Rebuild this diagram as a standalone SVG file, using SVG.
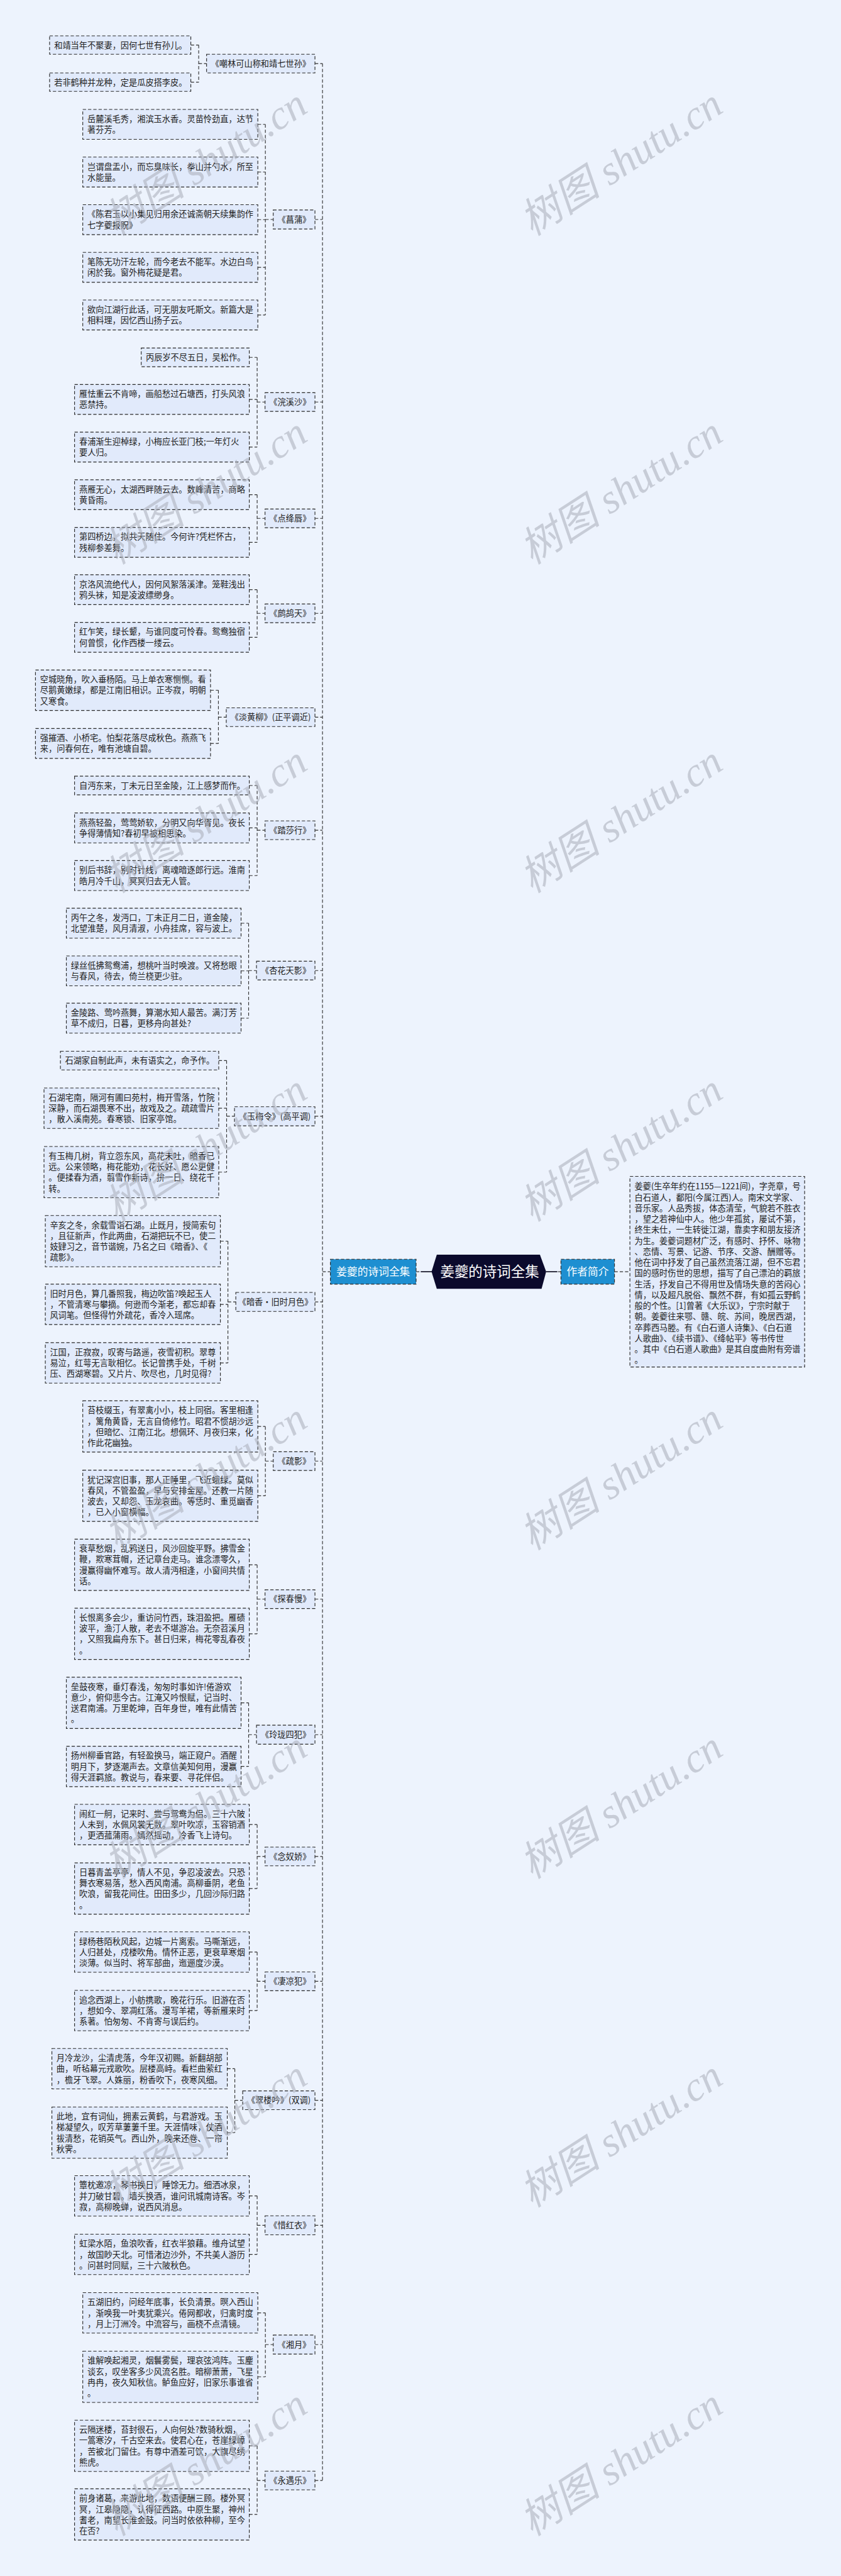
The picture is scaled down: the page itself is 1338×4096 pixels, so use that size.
<svg xmlns="http://www.w3.org/2000/svg" width="1338" height="4096" viewBox="0 0 1338 4096">
<style>
.box{fill:#e1eafb;stroke:#2b2b2b;stroke-width:2.2;stroke-dasharray:10 6}
.t{font-family:"Noto Sans CJK SC","Noto Sans",sans-serif;font-size:25.3px;fill:#222}
.m{text-anchor:middle}
.c{fill:none;stroke:#333;stroke-width:2.2;stroke-dasharray:10 6}
.s{fill:none;stroke:#1a1a2a;stroke-width:3.2}
.blue{fill:#1e8fd1;stroke:#2b2b2b;stroke-width:2.2;stroke-dasharray:10 6}
.wt{font-family:"Noto Sans CJK SC","Noto Sans",sans-serif;fill:#fff;text-anchor:middle}
.wm{font-family:"Liberation Serif","Noto Sans CJK SC",serif;font-style:italic;font-size:125px;fill:#a9aeb9;opacity:0.55}
</style>
<rect x="0" y="0" width="1338" height="4096" fill="#edf3fd"/>
<g transform="scale(0.5225)">
<g id="connectors">
<path class="c" d="M581,137H605 M581,250H605 M605,137V250 M605,193.5H629"/>
<path class="c" d="M785,378.5H808 M785,523.5H808 M785,668.5H808 M785,813.5H808 M785,958.5H808 M808,378.5V958.5 M808,668H832"/>
<path class="c" d="M759,1087.5H783 M759,1215.5H783 M759,1360.5H783 M783,1087.5V1360.5 M783,1223.5H807"/>
<path class="c" d="M759,1505.5H783 M759,1650.5H783 M783,1505.5V1650.5 M783,1577.5H807"/>
<path class="c" d="M759,1794.5H783 M759,1939.5H783 M783,1794.5V1939.5 M783,1866.5H807"/>
<path class="c" d="M641,2100.5H665 M641,2262.5H665 M665,2100.5V2262.5 M665,2182.5H689"/>
<path class="c" d="M759,2390.5H783 M759,2519.5H783 M759,2664.5H783 M783,2390.5V2664.5 M783,2526.5H807"/>
<path class="c" d="M734,2809.5H757 M734,2954.5H757 M734,3098.5H757 M757,2809.5V3098.5 M757,2953.5H781"/>
<path class="c" d="M666,3227.5H690 M666,3372.5H690 M666,3567H690 M690,3227.5V3567 M690,3397H714"/>
<path class="c" d="M671,3777H694 M671,3969.5H694 M671,4147.5H694 M694,3777V4147.5 M694,3962H718"/>
<path class="c" d="M785,4341H808 M785,4552H808 M808,4341V4552 M808,4446.5H832"/>
<path class="c" d="M759,4762H783 M759,4972H783 M783,4762V4972 M783,4866.5H807"/>
<path class="c" d="M734,5182H757 M734,5375.5H757 M757,5182V5375.5 M757,5279H781"/>
<path class="c" d="M759,5552.5H783 M759,5747H783 M783,5552.5V5747 M783,5649.5H807"/>
<path class="c" d="M759,5940.5H783 M759,6118.5H783 M783,5940.5V6118.5 M783,6029.5H807"/>
<path class="c" d="M692,6295.5H715 M692,6490H715 M715,6295.5V6490 M715,6391.5H739"/>
<path class="c" d="M759,6682.5H783 M759,6860.5H783 M783,6682.5V6860.5 M783,6772H807"/>
<path class="c" d="M785,7038.5H808 M785,7233H808 M808,7038.5V7233 M808,7135H832"/>
<path class="c" d="M759,7443H783 M759,7652H783 M783,7443V7652 M783,7548.5H807"/>
<path class="c" d="M982,193.5V7548.5 M959,193.5H982 M959,668H982 M959,1223.5H982 M959,1577.5H982 M959,1866.5H982 M959,2182.5H982 M959,2526.5H982 M959,2953.5H982 M959,3397H982 M959,3962H982 M959,4446.5H982 M959,4866.5H982 M959,5279H982 M959,5649.5H982 M959,6029.5H982 M959,6391.5H982 M959,6772H982 M959,7135H982 M959,7548.5H982 M982,3870H1006"/>
<path class="s" d="M1281,3870H1319 M1663,3870H1697"/>
<path class="c" d="M1267,3870H1277 M1699,3870H1708 M1871,3870H1918"/>
</g>

<g id="root-left"><rect class="blue" x="1006" y="3832" width="261" height="76"/><text class="wt" x="1136.5" y="3882" font-size="32">姜夔的诗词全集</text></g>
<g id="center"><polygon points="1330,3818 1644,3818 1663,3870 1649,3922 1330,3922 1314,3870" fill="#0b0a2c"/><text class="wt" x="1491" y="3886" font-size="43">姜夔的诗词全集</text></g>
<g id="author"><rect class="blue" x="1708" y="3832" width="163" height="76"/><text class="wt" x="1789.5" y="3882" font-size="32">作者简介</text></g>
<g id="author-text"><rect class="box" x="1918" y="3580" width="532" height="580"/>
<text class="t"><tspan x="1932" y="3620">姜夔(生卒年约在1155—1221间)，字尧章，号</tspan><tspan x="1932" y="3653">白石道人，鄱阳(今属江西)人。南宋文学家、</tspan><tspan x="1932" y="3686">音乐家。人品秀拔，体态清莹，气貌若不胜衣</tspan><tspan x="1932" y="3719">，望之若神仙中人。他少年孤贫，屡试不第，</tspan><tspan x="1932" y="3752">终生未仕，一生转徙江湖，靠卖字和朋友接济</tspan><tspan x="1932" y="3785">为生。姜夔词题材广泛，有感时、抒怀、咏物</tspan><tspan x="1932" y="3818">、恋情、写景、记游、节序、交游、酬赠等。</tspan><tspan x="1932" y="3851">他在词中抒发了自己虽然流落江湖，但不忘君</tspan><tspan x="1932" y="3884">国的感时伤世的思想，描写了自己漂泊的羁旅</tspan><tspan x="1932" y="3917">生活，抒发自己不得用世及情场失意的苦闷心</tspan><tspan x="1932" y="3950">情，以及超凡脱俗、飘然不群，有如孤云野鹤</tspan><tspan x="1932" y="3983">般的个性。[1]曾著《大乐议》，宁宗时献于</tspan><tspan x="1932" y="4016">朝。姜夔往来鄂、赣、皖、苏间，晚居西湖，</tspan><tspan x="1932" y="4049">卒葬西马塍。有《白石道人诗集》、《白石道</tspan><tspan x="1932" y="4082">人歌曲》、《续书谱》、《绛帖平》等书传世</tspan><tspan x="1932" y="4115">。其中《白石道人歌曲》是其自度曲附有旁谱</tspan><tspan x="1932" y="4148">。</tspan></text></g>

<g id="tA"><rect class="box" x="629" y="165" width="330" height="57"/><text class="t m" x="794" y="202.5">《嘲林可山称和靖七世孙》</text></g>
<g id="a1"><rect class="box" x="151" y="109" width="430" height="56"/><text class="t" x="165" y="146.5">和靖当年不聚妻，因何七世有孙儿。</text></g>
<g id="a2"><rect class="box" x="151" y="222" width="430" height="56"/><text class="t" x="165" y="259.5">若非鹤种并龙种，定是瓜皮搭李皮。</text></g>

<g id="tB"><rect class="box" x="832" y="639" width="127" height="58"/><text class="t m" x="895.5" y="677">《菖蒲》</text></g>
<g id="b1"><rect class="box" x="252" y="333" width="533" height="91"/><text class="t"><tspan x="266" y="371">岳麓溪毛秀，湘滨玉水香。灵苗怜劲直，达节</tspan><tspan x="266" y="404">著芬芳。</tspan></text></g>
<g id="b2"><rect class="box" x="252" y="478" width="533" height="91"/><text class="t"><tspan x="266" y="516">岂谓盘盂小，而忘臭味长，拳山并勺水，所至</tspan><tspan x="266" y="549">水能量。</tspan></text></g>
<g id="b3"><rect class="box" x="252" y="623" width="533" height="91"/><text class="t"><tspan x="266" y="661">《陈君玉以小集见归用余还诚斋朝天续集韵作</tspan><tspan x="266" y="694">七字夔报贶》</tspan></text></g>
<g id="b4"><rect class="box" x="252" y="768" width="533" height="91"/><text class="t"><tspan x="266" y="806">笔陈无功汗左轮，而今老去不能军。水边白鸟</tspan><tspan x="266" y="839">闲於我。窗外梅花疑是君。</tspan></text></g>
<g id="b5"><rect class="box" x="252" y="913" width="533" height="91"/><text class="t"><tspan x="266" y="951">欲向江湖行此话，可无朋友吒斯文。新篇大是</tspan><tspan x="266" y="984">相料理，因忆西山扬子云。</tspan></text></g>

<g id="tC"><rect class="box" x="807" y="1195" width="152" height="57"/><text class="t m" x="883" y="1232.5">《浣溪沙》</text></g>
<g id="c1"><rect class="box" x="430" y="1059" width="329" height="57"/><text class="t" x="444" y="1097">丙辰岁不尽五日，吴松作。</text></g>
<g id="c2"><rect class="box" x="227" y="1170" width="532" height="91"/><text class="t"><tspan x="241" y="1208">雁怯重云不肯啼，画船愁过石塘西，打头风浪</tspan><tspan x="241" y="1241">恶禁持。</tspan></text></g>
<g id="c3"><rect class="box" x="227" y="1315" width="532" height="91"/><text class="t"><tspan x="241" y="1353">春浦渐生迎棹绿，小梅应长亚门枝;一年灯火</tspan><tspan x="241" y="1386">要人归。</tspan></text></g>

<g id="tD"><rect class="box" x="807" y="1549" width="152" height="57"/><text class="t m" x="883" y="1586.5">《点绛唇》</text></g>
<g id="d1"><rect class="box" x="227" y="1460" width="532" height="91"/><text class="t"><tspan x="241" y="1498">燕雁无心，太湖西畔随云去。数峰清苦，商略</tspan><tspan x="241" y="1531">黄昏雨。</tspan></text></g>
<g id="d2"><rect class="box" x="227" y="1605" width="532" height="91"/><text class="t"><tspan x="241" y="1643">第四桥边，拟共天随住。今何许?凭栏怀古，</tspan><tspan x="241" y="1676">残柳参差舞。</tspan></text></g>

<g id="tE"><rect class="box" x="807" y="1838" width="152" height="57"/><text class="t m" x="883" y="1875.5">《鹧鸪天》</text></g>
<g id="e1"><rect class="box" x="227" y="1749" width="532" height="91"/><text class="t"><tspan x="241" y="1787">京洛风流绝代人，因何风絮落溪津。笼鞋浅出</tspan><tspan x="241" y="1820">鸦头袜，知是凌波缥缈身。</tspan></text></g>
<g id="e2"><rect class="box" x="227" y="1894" width="532" height="91"/><text class="t"><tspan x="241" y="1932">红乍笑，绿长颦，与谁同度可怜春。鸳鸯独宿</tspan><tspan x="241" y="1965">何曾惯，化作西楼一缕云。</tspan></text></g>

<g id="tF"><rect class="box" x="689" y="2154" width="270" height="57"/><text class="t m" x="824" y="2191.5">《淡黄柳》(正平调近)</text></g>
<g id="f1"><rect class="box" x="108" y="2039" width="533" height="123"/><text class="t"><tspan x="122" y="2077">空城晓角，吹入垂杨陌。马上单衣寒恻恻。看</tspan><tspan x="122" y="2110">尽鹅黄嫩绿，都是江南旧相识。正岑寂，明朝</tspan><tspan x="122" y="2143">又寒食。</tspan></text></g>
<g id="f2"><rect class="box" x="108" y="2217" width="533" height="91"/><text class="t"><tspan x="122" y="2255">强摧酒、小桥宅。怕梨花落尽成秋色。燕燕飞</tspan><tspan x="122" y="2288">来，问春何在，唯有池塘自碧。</tspan></text></g>

<g id="tG"><rect class="box" x="807" y="2498" width="152" height="57"/><text class="t m" x="883" y="2535.5">《踏莎行》</text></g>
<g id="g1"><rect class="box" x="227" y="2362" width="532" height="57"/><text class="t" x="241" y="2400">自沔东来，丁未元日至金陵，江上感梦而作。</text></g>
<g id="g2"><rect class="box" x="227" y="2474" width="532" height="91"/><text class="t"><tspan x="241" y="2512">燕燕轻盈，莺莺娇软，分明又向华胥见。夜长</tspan><tspan x="241" y="2545">争得薄情知?春初早被相思染。</tspan></text></g>
<g id="g3"><rect class="box" x="227" y="2619" width="532" height="91"/><text class="t"><tspan x="241" y="2657">别后书辞，别时针线，离魂暗逐郎行远。淮南</tspan><tspan x="241" y="2690">皓月冷千山，冥冥归去无人管。</tspan></text></g>

<g id="tH"><rect class="box" x="781" y="2925" width="178" height="57"/><text class="t m" x="870" y="2962.5">《杏花天影》</text></g>
<g id="h1"><rect class="box" x="202" y="2764" width="532" height="91"/><text class="t"><tspan x="216" y="2802">丙午之冬，发沔口，丁未正月二日，道金陵，</tspan><tspan x="216" y="2835">北望淮楚，风月清淑，小舟挂席，容与波上。</tspan></text></g>
<g id="h2"><rect class="box" x="202" y="2909" width="532" height="91"/><text class="t"><tspan x="216" y="2947">绿丝低拂鸳鸯浦，想桃叶当时唤渡。又将愁眼</tspan><tspan x="216" y="2980">与春风，待去，倚兰桡更少驻。</tspan></text></g>
<g id="h3"><rect class="box" x="202" y="3053" width="532" height="91"/><text class="t"><tspan x="216" y="3091">金陵路、莺吟燕舞，算潮水知人最苦。满汀芳</tspan><tspan x="216" y="3124">草不成归，日暮，更移舟向甚处?</tspan></text></g>

<g id="tI"><rect class="box" x="714" y="3368" width="245" height="58"/><text class="t m" x="836.5" y="3406">《玉梅令》(高平调)</text></g>
<g id="i1"><rect class="box" x="184" y="3199" width="482" height="57"/><text class="t" x="198" y="3237">石湖家自制此声，未有语实之，命予作。</text></g>
<g id="i2"><rect class="box" x="134" y="3311" width="532" height="123"/><text class="t"><tspan x="148" y="3349">石湖宅南，隔河有圃曰苑村，梅开雪落，竹院</tspan><tspan x="148" y="3382">深静，而石湖畏寒不出，故戏及之。疏疏雪片</tspan><tspan x="148" y="3415">，散入溪南苑。春寒锁、旧家亭馆。</tspan></text></g>
<g id="i3"><rect class="box" x="134" y="3489" width="532" height="156"/><text class="t"><tspan x="148" y="3527">有玉梅几树，背立怨东风，高花未吐，暗香已</tspan><tspan x="148" y="3560">远。公来领略，梅花能劝，花长好、愿公更健</tspan><tspan x="148" y="3593">。便揉春为酒，翦雪作新诗，拚一日、绕花千</tspan><tspan x="148" y="3626">转。</tspan></text></g>

<g id="tJ"><rect class="box" x="718" y="3933" width="241" height="58"/><text class="t m" x="838.5" y="3971">《暗香·旧时月色》</text></g>
<g id="j1"><rect class="box" x="138" y="3699" width="533" height="156"/><text class="t"><tspan x="152" y="3737">辛亥之冬，余载雪诣石湖。止既月，授简索句</tspan><tspan x="152" y="3770">，且征新声，作此两曲，石湖把玩不已，使二</tspan><tspan x="152" y="3803">妓肄习之，音节谐婉，乃名之曰《暗香》、《</tspan><tspan x="152" y="3836">疏影》。</tspan></text></g>
<g id="j2"><rect class="box" x="138" y="3908" width="533" height="123"/><text class="t"><tspan x="152" y="3946">旧时月色，算几番照我，梅边吹笛?唤起玉人</tspan><tspan x="152" y="3979">，不管清寒与攀摘。何逊而今渐老，都忘却春</tspan><tspan x="152" y="4012">风词笔。但怪得竹外疏花，香冷入瑶席。</tspan></text></g>
<g id="j3"><rect class="box" x="138" y="4086" width="533" height="123"/><text class="t"><tspan x="152" y="4124">江国，正寂寂，叹寄与路遥，夜雪初积。翠尊</tspan><tspan x="152" y="4157">易泣，红萼无言耿相忆。长记曾携手处，千树</tspan><tspan x="152" y="4190">压、西湖寒碧。又片片、吹尽也，几时见得?</tspan></text></g>

<g id="tK"><rect class="box" x="832" y="4418" width="127" height="57"/><text class="t m" x="895.5" y="4455.5">《疏影》</text></g>
<g id="k1"><rect class="box" x="252" y="4263" width="533" height="156"/><text class="t"><tspan x="266" y="4301">苔枝缀玉，有翠禽小小，枝上同宿。客里相逢</tspan><tspan x="266" y="4334">，篱角黄昏，无言自倚修竹。昭君不惯胡沙远</tspan><tspan x="266" y="4367">，但暗忆、江南江北。想佩环、月夜归来，化</tspan><tspan x="266" y="4400">作此花幽独。</tspan></text></g>
<g id="k2"><rect class="box" x="252" y="4474" width="533" height="156"/><text class="t"><tspan x="266" y="4512">犹记深宫旧事，那人正睡里，飞近蛾绿。莫似</tspan><tspan x="266" y="4545">春风，不管盈盈，早与安排金屋。还教一片随</tspan><tspan x="266" y="4578">波去，又却怨、玉龙哀曲。等恁时、重觅幽香</tspan><tspan x="266" y="4611">，已入小窗横幅。</tspan></text></g>

<g id="tL"><rect class="box" x="807" y="4838" width="152" height="57"/><text class="t m" x="883" y="4875.5">《探春慢》</text></g>
<g id="l1"><rect class="box" x="227" y="4684" width="532" height="156"/><text class="t"><tspan x="241" y="4722">衰草愁烟，乱鸦送日，风沙回旋平野。拂雪金</tspan><tspan x="241" y="4755">鞭，欺寒茸帽，还记章台走马。谁念漂零久，</tspan><tspan x="241" y="4788">漫赢得幽怀难写。故人清沔相逢，小窗间共情</tspan><tspan x="241" y="4821">话。</tspan></text></g>
<g id="l2"><rect class="box" x="227" y="4894" width="532" height="156"/><text class="t"><tspan x="241" y="4932">长恨离多会少，重访问竹西，珠泪盈把。雁碛</tspan><tspan x="241" y="4965">波平，渔汀人散，老去不堪游冶。无奈苕溪月</tspan><tspan x="241" y="4998">，又照我扁舟东下。甚日归来，梅花零乱春夜</tspan><tspan x="241" y="5031">。</tspan></text></g>

<g id="tM"><rect class="box" x="781" y="5250" width="178" height="58"/><text class="t m" x="870" y="5288">《玲珑四犯》</text></g>
<g id="m1"><rect class="box" x="202" y="5104" width="532" height="156"/><text class="t"><tspan x="216" y="5142">垒鼓夜寒，垂灯春浅，匆匆时事如许!倦游欢</tspan><tspan x="216" y="5175">意少，俯仰悲今古。江淹又吟恨赋，记当时、</tspan><tspan x="216" y="5208">送君南浦。万里乾坤，百年身世，唯有此情苦</tspan><tspan x="216" y="5241">。</tspan></text></g>
<g id="m2"><rect class="box" x="202" y="5314" width="532" height="123"/><text class="t"><tspan x="216" y="5352">扬州柳垂官路，有轻盈换马，端正窥户。酒醒</tspan><tspan x="216" y="5385">明月下，梦逐潮声去。文章信美知何用，漫赢</tspan><tspan x="216" y="5418">得天涯羁旅。教说与，春来要、寻花伴侣。</tspan></text></g>

<g id="tN"><rect class="box" x="807" y="5621" width="152" height="57"/><text class="t m" x="883" y="5658.5">《念奴娇》</text></g>
<g id="n1"><rect class="box" x="227" y="5491" width="532" height="123"/><text class="t"><tspan x="241" y="5529">闹红一舸，记来时、尝与鸳鸯为侣。三十六陂</tspan><tspan x="241" y="5562">人未到，水佩风裳无数。翠叶吹凉，玉容销酒</tspan><tspan x="241" y="5595">，更洒菰蒲雨。嫣然摇动，冷香飞上诗句。</tspan></text></g>
<g id="n2"><rect class="box" x="227" y="5669" width="532" height="156"/><text class="t"><tspan x="241" y="5707">日暮青盖亭亭，情人不见，争忍凌波去。只恐</tspan><tspan x="241" y="5740">舞衣寒易落，愁入西风南浦。高柳垂阴，老鱼</tspan><tspan x="241" y="5773">吹浪，留我花间住。田田多少，几回沙际归路</tspan><tspan x="241" y="5806">。</tspan></text></g>

<g id="tO"><rect class="box" x="807" y="6001" width="152" height="57"/><text class="t m" x="883" y="6038.5">《凄凉犯》</text></g>
<g id="o1"><rect class="box" x="227" y="5879" width="532" height="123"/><text class="t"><tspan x="241" y="5917">绿杨巷陌秋风起，边城一片离索。马嘶渐远，</tspan><tspan x="241" y="5950">人归甚处，戍楼吹角。情怀正恶，更衰草寒烟</tspan><tspan x="241" y="5983">淡薄。似当时、将军部曲，迤逦度沙漠。</tspan></text></g>
<g id="o2"><rect class="box" x="227" y="6057" width="532" height="123"/><text class="t"><tspan x="241" y="6095">追念西湖上，小舫携歌，晚花行乐。旧游在否</tspan><tspan x="241" y="6128">，想如今、翠凋红落。漫写羊裙，等新雁来时</tspan><tspan x="241" y="6161">系著。怕匆匆、不肯寄与误后约。</tspan></text></g>

<g id="tP"><rect class="box" x="739" y="6363" width="220" height="57"/><text class="t m" x="849" y="6400.5">《翠楼吟》(双调)</text></g>
<g id="p1"><rect class="box" x="158" y="6234" width="534" height="123"/><text class="t"><tspan x="172" y="6272">月冷龙沙，尘清虎落，今年汉初赐。新翻胡部</tspan><tspan x="172" y="6305">曲，听毡幕元戎歌吹。层楼高峙。看栏曲萦红</tspan><tspan x="172" y="6338">，檐牙飞翠。人姝丽，粉香吹下，夜寒风细。</tspan></text></g>
<g id="p2"><rect class="box" x="158" y="6412" width="534" height="156"/><text class="t"><tspan x="172" y="6450">此地，宜有词仙，拥素云黄鹤，与君游戏。玉</tspan><tspan x="172" y="6483">梯凝望久，叹芳草萋萋千里。天涯情味，仗酒</tspan><tspan x="172" y="6516">祓清愁，花销英气。西山外，晚来还卷、一帘</tspan><tspan x="172" y="6549">秋霁。</tspan></text></g>

<g id="tQ"><rect class="box" x="807" y="6743" width="152" height="58"/><text class="t m" x="883" y="6781">《惜红衣》</text></g>
<g id="q1"><rect class="box" x="227" y="6621" width="532" height="123"/><text class="t"><tspan x="241" y="6659">簟枕邀凉，琴书换日，睡馀无力。细洒冰泉，</tspan><tspan x="241" y="6692">并刀破甘碧。墙头换酒，谁问讯城南诗客。岑</tspan><tspan x="241" y="6725">寂，高柳晚蝉，说西风消息。</tspan></text></g>
<g id="q2"><rect class="box" x="227" y="6799" width="532" height="123"/><text class="t"><tspan x="241" y="6837">虹梁水陌，鱼浪吹香，红衣半狼藉。维舟试望</tspan><tspan x="241" y="6870">，故国眇天北。可惜渚边沙外，不共美人游历</tspan><tspan x="241" y="6903">。问甚时同赋，三十六陂秋色。</tspan></text></g>

<g id="tR"><rect class="box" x="832" y="7106" width="127" height="58"/><text class="t m" x="895.5" y="7144">《湘月》</text></g>
<g id="r1"><rect class="box" x="252" y="6977" width="533" height="123"/><text class="t"><tspan x="266" y="7015">五湖旧约，问经年底事，长负清景。暝入西山</tspan><tspan x="266" y="7048">，渐唤我一叶夷犹乘兴。倦网都收，归禽时度</tspan><tspan x="266" y="7081">，月上汀洲冷。中流容与，画桡不点清镜。</tspan></text></g>
<g id="r2"><rect class="box" x="252" y="7155" width="533" height="156"/><text class="t"><tspan x="266" y="7193">谁解唤起湘灵，烟鬟雾鬓，理哀弦鸿阵。玉麈</tspan><tspan x="266" y="7226">谈玄，叹坐客多少风流名胜。暗柳萧萧，飞星</tspan><tspan x="266" y="7259">冉冉，夜久知秋信。鲈鱼应好，旧家乐事谁省</tspan><tspan x="266" y="7292">。</tspan></text></g>

<g id="tS"><rect class="box" x="807" y="7520" width="152" height="57"/><text class="t m" x="883" y="7557.5">《永遇乐》</text></g>
<g id="s1"><rect class="box" x="227" y="7365" width="532" height="156"/><text class="t"><tspan x="241" y="7403">云隔迷楼，苔封很石，人向何处?数骑秋烟，</tspan><tspan x="241" y="7436">一篙寒汐，千古空来去。使君心在，苍崖绿嶂</tspan><tspan x="241" y="7469">，苦被北门留住。有尊中酒差可饮，大旗尽绣</tspan><tspan x="241" y="7502">熊虎。</tspan></text></g>
<g id="s2"><rect class="box" x="227" y="7574" width="532" height="156"/><text class="t"><tspan x="241" y="7612">前身诸葛，来游此地，数语便酬三顾。楼外冥</tspan><tspan x="241" y="7645">冥，江皋隐隐，认得征西路。中原生聚，神州</tspan><tspan x="241" y="7678">耆老，南望长淮金鼓。问当时依依种柳，至今</tspan><tspan x="241" y="7711">在否?</tspan></text></g>

<g id="watermarks">
<text class="wm" x="355" y="720" transform="rotate(-33 355 720)">树图 shutu.cn</text>
<text class="wm" x="1620" y="720" transform="rotate(-33 1620 720)">树图 shutu.cn</text>
<text class="wm" x="355" y="1720" transform="rotate(-33 355 1720)">树图 shutu.cn</text>
<text class="wm" x="1620" y="1720" transform="rotate(-33 1620 1720)">树图 shutu.cn</text>
<text class="wm" x="355" y="2720" transform="rotate(-33 355 2720)">树图 shutu.cn</text>
<text class="wm" x="1620" y="2720" transform="rotate(-33 1620 2720)">树图 shutu.cn</text>
<text class="wm" x="355" y="3720" transform="rotate(-33 355 3720)">树图 shutu.cn</text>
<text class="wm" x="1620" y="3720" transform="rotate(-33 1620 3720)">树图 shutu.cn</text>
<text class="wm" x="355" y="4720" transform="rotate(-33 355 4720)">树图 shutu.cn</text>
<text class="wm" x="1620" y="4720" transform="rotate(-33 1620 4720)">树图 shutu.cn</text>
<text class="wm" x="355" y="5720" transform="rotate(-33 355 5720)">树图 shutu.cn</text>
<text class="wm" x="1620" y="5720" transform="rotate(-33 1620 5720)">树图 shutu.cn</text>
<text class="wm" x="355" y="6720" transform="rotate(-33 355 6720)">树图 shutu.cn</text>
<text class="wm" x="1620" y="6720" transform="rotate(-33 1620 6720)">树图 shutu.cn</text>
<text class="wm" x="355" y="7720" transform="rotate(-33 355 7720)">树图 shutu.cn</text>
<text class="wm" x="1620" y="7720" transform="rotate(-33 1620 7720)">树图 shutu.cn</text>
</g>
</g>
</svg>
